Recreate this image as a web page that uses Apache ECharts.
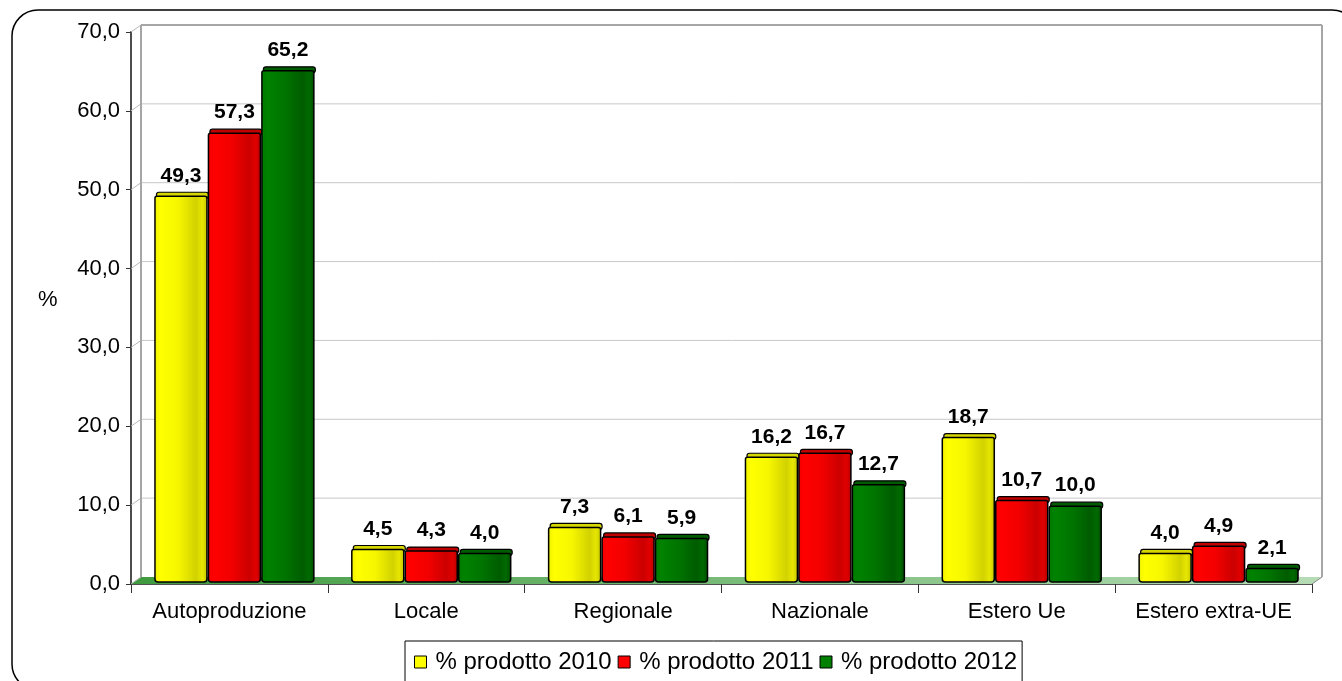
<!DOCTYPE html>
<html>
<head>
<meta charset="utf-8">
<script src="https://cdn.jsdelivr.net/npm/echarts@6/dist/echarts.min.js"></script>
<style>
  html, body { margin: 0; padding: 0; background: #fff; }
  #chart { width: 1342px; height: 681px; }
</style>
</head>
<body>
<div id="chart"></div>
<script>
// Provenienza del prodotto, quota percentuale per anno
const categories = ['Autoproduzione', 'Locale', 'Regionale', 'Nazionale', 'Estero Ue', 'Estero extra-UE'];
const seriesNames = ['% prodotto 2010', '% prodotto 2011', '% prodotto 2012'];
const values2010 = [49.3, 4.5, 7.3, 16.2, 18.7, 4.0];
const values2011 = [57.3, 4.3, 6.1, 16.7, 10.7, 4.9];
const values2012 = [65.2, 4.0, 5.9, 12.7, 10.0, 2.1];
const yTicks = [0, 10, 20, 30, 40, 50, 60, 70];

const FONT = '"Liberation Sans", Arial, sans-serif';
const DEPTH = [10, -7];          // offset of the back wall (3D look)
const fmt = v => v.toFixed(1).replace('.', ',');

const palettes = [
  { base: '#ffff00', cap: '#d6d600',
    stops: [[0, '#f0f000'], [0.12, '#ffff00'], [0.45, '#f6f600'], [0.78, '#d2d200'], [0.9, '#e6e600'], [1, '#c4c400']] },
  { base: '#ff0000', cap: '#c00000',
    stops: [[0, '#f40000'], [0.12, '#ff0000'], [0.45, '#f20000'], [0.78, '#cc0000'], [0.9, '#e00000'], [1, '#b40000']] },
  { base: '#008000', cap: '#005c00',
    stops: [[0, '#007800'], [0.12, '#008200'], [0.45, '#007400'], [0.78, '#005c00'], [0.9, '#006a00'], [1, '#004a00']] }
];

function gradient(stops) {
  return new echarts.graphic.LinearGradient(0, 0, 1, 0,
    stops.map(s => ({ offset: s[0], color: s[1] })));
}

// Floor, side wall and back wall with its gridlines
function renderWalls(params, api) {
  const first = api.coord([0, 0]);
  const band = api.size([1, 0])[0];
  const xL = first[0] - band / 2;
  const xR = xL + band * categories.length;
  const y = v => api.coord([0, v])[1];
  const [dx, dy] = DEPTH;
  const top = yTicks[yTicks.length - 1];
  const kids = [];

  kids.push({
    type: 'polygon',
    shape: { points: [[xL, y(0)], [xR, y(0)], [xR + dx, y(0) + dy], [xL + dx, y(0) + dy]] },
    style: { fill: new echarts.graphic.LinearGradient(0, 0, 1, 0, [
      { offset: 0, color: '#3f9a3f' }, { offset: 0.5, color: '#78bb78' }, { offset: 1, color: '#b6dcb6' }]) }
  });
  yTicks.forEach(v => {
    if (v > 0 && v < top) {
      kids.push({ type: 'line', shape: { x1: xL + dx, y1: y(v) + dy, x2: xR + dx, y2: y(v) + dy },
        style: { stroke: '#c8c8c8', lineWidth: 1 } });
    }
    kids.push({ type: 'line', shape: { x1: xL, y1: y(v), x2: xL + dx, y2: y(v) + dy },
      style: { stroke: '#b8b8b8', lineWidth: 1 } });
  });
  kids.push({ type: 'line', shape: { x1: xL + dx, y1: y(top) + dy, x2: xR + dx, y2: y(top) + dy },
    style: { stroke: '#a6a6a6', lineWidth: 2 } });
  kids.push({ type: 'line', shape: { x1: xL + dx, y1: y(0) + dy, x2: xL + dx, y2: y(top) + dy },
    style: { stroke: '#a6a6a6', lineWidth: 2 } });
  kids.push({ type: 'line', shape: { x1: xR + dx, y1: y(0) + dy, x2: xR + dx, y2: y(top) + dy },
    style: { stroke: '#a6a6a6', lineWidth: 2 } });
  kids.push({ type: 'line', shape: { x1: xR, y1: y(0), x2: xR + dx, y2: y(0) + dy },
    style: { stroke: '#8a8a8a', lineWidth: 1 } });
  return { type: 'group', children: kids };
}

// Column with a rounded top face and its value label
function makeBarRenderer(idx) {
  const pal = palettes[idx];
  return function (params, api) {
    const cat = api.value(0);
    const val = api.value(1);
    const topPt = api.coord([cat, val]);
    const basePt = api.coord([cat, 0]);
    const band = api.size([1, 0])[0];
    const bw = band * 0.264;
    const gap = 1.5;
    const cx = topPt[0] + DEPTH[0] / 2 + (idx - 1) * (bw + gap);
    const x0 = cx - bw / 2;
    const yb = basePt[1] - 2;
    const yt = topPt[1] + 1;
    return {
      type: 'group',
      children: [
        { type: 'rect', shape: { x: x0 + 1.5, y: yt - 4, width: bw, height: 6, r: 2.5 },
          style: { fill: pal.cap, stroke: '#000', lineWidth: 1.2 } },
        { type: 'rect', shape: { x: x0, y: yt, width: bw, height: Math.max(yb - yt, 1), r: [2, 2, 3, 3] },
          style: { fill: gradient(pal.stops), stroke: '#000', lineWidth: 1.5 } },
        { type: 'text', style: { text: fmt(val), x: cx, y: yt - 10, align: 'center', verticalAlign: 'bottom',
          font: 'bold 21px ' + FONT, fill: '#000' } }
      ]
    };
  };
}

const allValues = [values2010, values2011, values2012];

const chart = echarts.init(document.getElementById('chart'), null, { renderer: 'canvas' });
chart.setOption({
  backgroundColor: '#ffffff',
  animation: false,
  graphic: [
    { type: 'rect', shape: { x: 12, y: 10, width: 1346, height: 680, r: 26 },
      style: { fill: 'none', stroke: '#000', lineWidth: 1.5 }, z: -10 },
    { type: 'text', left: 38, top: 289, style: { text: '%', font: '22px ' + FONT, fill: '#000' } }
  ],
  grid: { left: 131, right: 30, top: 32, bottom: 97, containLabel: false },
  legend: {
    data: seriesNames,
    left: 405, top: 641,
    orient: 'horizontal',
    icon: 'rect',
    itemWidth: 12, itemHeight: 12, itemGap: 6,
    itemStyle: { borderColor: '#000', borderWidth: 1 },
    borderColor: '#000', borderWidth: 1, borderRadius: 0,
    padding: [9, 5, 16, 9],
    textStyle: { fontFamily: FONT, fontSize: 24, color: '#000', padding: [0, 0, 0, 4] }
  },
  xAxis: {
    type: 'category',
    data: categories,
    boundaryGap: true,
    axisLine: { lineStyle: { color: '#1a1a1a', width: 1.5 } },
    axisTick: { show: true, interval: 0, length: 9, lineStyle: { color: '#333' } },
    axisLabel: { interval: 0, hideOverlap: false, color: '#000', fontFamily: FONT, fontSize: 22, margin: 17 },
    splitLine: { show: false }
  },
  yAxis: {
    type: 'value',
    min: 0, max: 70, interval: 10,
    axisLine: { show: true, lineStyle: { color: '#4d4d4d', width: 2 } },
    axisTick: { show: true, length: 5, lineStyle: { color: '#333' } },
    axisLabel: { color: '#000', fontFamily: FONT, fontSize: 22, margin: 11, formatter: v => fmt(v) },
    splitLine: { show: false }
  },
  series: [
    { type: 'custom', name: 'walls', renderItem: renderWalls, data: [[0, 0]], z: 1, silent: true, clip: false,
      encode: { x: 0, y: 1 } }
  ].concat(allValues.map((vals, i) => ({
    type: 'custom',
    name: seriesNames[i],
    renderItem: makeBarRenderer(i),
    data: vals.map((v, j) => [j, v]),
    encode: { x: 0, y: 1 },
    itemStyle: { color: palettes[i].base },
    clip: false,
    z: 3
  })))
});
</script>
</body>
</html>
